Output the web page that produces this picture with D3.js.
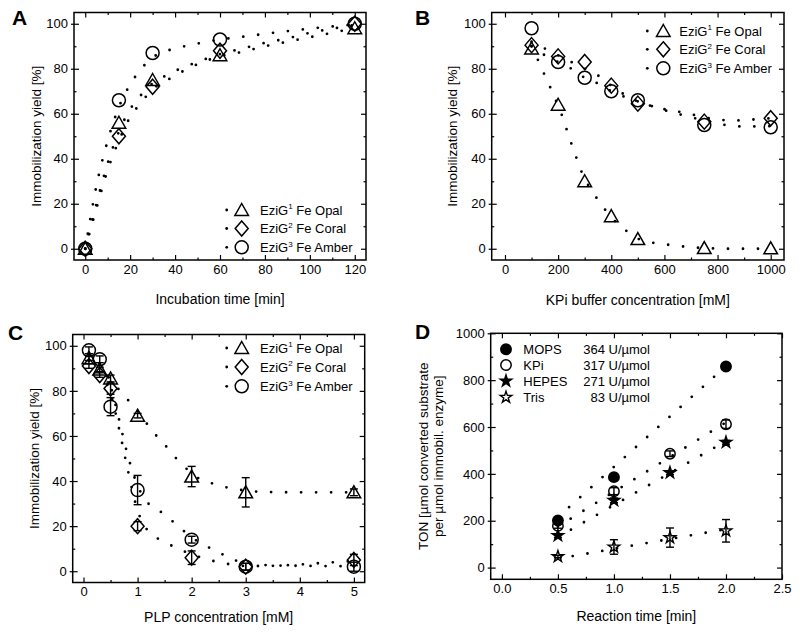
<!DOCTYPE html>
<html><head><meta charset="utf-8">
<script src="https://cdn.jsdelivr.net/npm/d3@7"></script>
<style>
body{margin:0;background:#fff}
svg text{font-family:"Liberation Sans",Arial,Helvetica,sans-serif;fill:#000}
</style></head><body>
<script>
// ---------- Panel A data ----------
const timeA = [0, 15, 30, 60, 120];
const opalA = [0, 56, 75, 86, 98];
const coralA = [0, 50, 72, 88, 100];
const amberA = [0, 66, 87, 93, 100];
const fitXA = [0, 5, 10, 15, 20, 25, 30, 35, 40, 50, 60, 70, 80, 90, 100, 110, 120];
const opalFitA = [0, 20, 38, 52, 62, 68.5, 73.5, 76.5, 79, 83, 86.5, 89, 91.5, 93.5, 96, 97.8, 99.5];
const coralFitA = [0, 18, 35, 48, 58.5, 65, 71, 74, 77, 82, 85.5, 87.5, 90, 92, 94, 96, 98];
const amberFitA = [0, 28, 48, 63, 73, 80, 85, 87.5, 89, 91.2, 93, 94.2, 95.5, 96.7, 97.8, 98.8, 99.6];

// ---------- Panel B data ----------
const kpiB = [100, 200, 300, 400, 500, 750, 1000];
const opalB = [89, 64, 30, 14.5, 4.3, 0.3, 0.2];
const coralB = [90.5, 85.5, 83, 72.5, 64.5, 56.5, 58];
const amberB = [98, 83, 76, 70, 66, 55, 54];
const opalFitXB = [100, 120, 150, 175, 200, 220, 240, 260, 280, 300, 320, 356, 400, 440, 500, 530, 580, 635, 695, 770, 850, 1000];
const opalFitB = [90, 85, 77, 70.5, 63.5, 57.5, 50, 43.4, 36.7, 31, 27, 20.7, 14, 9.6, 4.5, 3.3, 2.3, 1.5, 0.7, 0.2, 0, 0];
const fitXB = [100, 150, 200, 250, 300, 350, 400, 450, 500, 550, 600, 650, 700, 750, 800, 850, 900, 950, 1000];
const coralFitB = [92, 89, 86, 83, 80, 77, 72.5, 68.5, 65.5, 63.5, 62, 61, 59.8, 58.4, 57.5, 57, 57.1, 57.6, 58];
const amberFitB = [90, 86, 83, 80, 76, 73.4, 70, 67.5, 65.5, 63.5, 61.6, 60, 58.4, 57, 55.6, 54.7, 54.3, 54.4, 54.5];

// ---------- Panel C data ----------
const plpC = [0.1, 0.3, 0.5, 1, 2, 3, 5];
const opalC = [94.5, 89.5, 85.5, 69, 42, 35, 35];
const opalErrC = [1, 1, 1.5, 1, 4.5, 6.5, 1.5];
const coralC = [91, 87, 81, 20, 6, 2, 5];
const coralErrC = [1, 1, 2.5, 2, 3, 1.5, 2.5];
const amberC = [98, 94, 73, 36, 14, 2, 2];
const amberErrC = [1.5, 1.5, 4, 6.5, 1.5, 1.5, 2];
const opalFitXC = [0.1, 0.3, 0.5, 0.82, 1, 1.28, 1.52, 1.77, 2, 2.16, 2.46, 2.73, 3, 3.3, 4, 5];
const opalFitC = [96, 91, 85, 76, 71, 62, 55.6, 48.6, 43.5, 40.7, 38.5, 36.7, 35.8, 35.2, 35, 35];
const fitXC = [0.1, 0.3, 0.5, 0.65, 0.8, 1, 1.2, 1.45, 1.75, 2, 2.2, 2.46, 2.73, 3, 3.5, 4, 4.5, 5];
const amberFitC = [97, 92, 82, 68, 53, 38, 30, 26, 20, 15, 12, 8.9, 5.6, 3.5, 2.6, 2.4, 2.3, 2.2];
const coralFitC = [93, 88, 79, 64, 47, 27, 17.6, 13.6, 10, 7.5, 5.9, 4.2, 3, 2.3, 2.4, 3, 3.8, 4.5];

// ---------- Panel D data ----------
const timeD = [0.5, 1.0, 1.5, 2.0];
const mopsD = [201, 386, null, 858];
const mopsErrD = [8, 15, null, 10];
const kpiD = [178, 326, 486, 612];
const kpiErrD = [10, 15, 12, 18];
const hepesD = [137, 287, 405, 535];
const hepesErrD = [8, 10, 8, 8];
const trisD = [47, 88, 128, 157];
const trisErrD = [5, 31, 41, 48];
const fitXD = [0.5, 2.0];
const mopsFitD = [215, 860];
const kpiFitD = [175, 620];
const hepesFitD = [130, 540];
const trisFitD = [38, 164];
const legendNamesD = ["MOPS", "KPi", "HEPES", "Tris"];
const legendValuesD = ["364 U/µmol", "317 U/µmol", "271 U/µmol", "83 U/µmol"];

const legendSeries = [["1", " Fe Opal"], ["2", " Fe Coral"], ["3", " Fe Amber"]];

const FONT = '"Liberation Sans",Arial,Helvetica,sans-serif';
const svg = d3.select("body").append("svg").attr("width", 800).attr("height", 638)
  .style("background", "#fff");

function makePanel(o) {
  const x = d3.scaleLinear().domain(o.xd).range([o.l, o.r]);
  const y = d3.scaleLinear().domain(o.yd).range([o.b, o.t]);
  const g = svg.append("g");
  const ax = (fn, scale, vals, size, pad, fmt, tr) => {
    const a = fn(scale).tickValues(vals).tickSizeInner(size).tickSizeOuter(0).tickPadding(pad)
      .tickFormat(fmt || (() => ""));
    const gg = g.append("g").attr("transform", tr).call(a)
      .attr("font-size", 13).attr("font-family", FONT);
    gg.select(".domain").remove();
    gg.selectAll("line").attr("stroke", "#000").attr("stroke-width", 1.2);
    gg.selectAll("text").attr("fill", "#000");
    return gg;
  };
  ax(d3.axisBottom, x, o.xMaj, -5, 4.5, o.xFmt, `translate(0,${o.b})`);
  ax(d3.axisBottom, x, o.xMin, -2.5, 0, null, `translate(0,${o.b})`);
  ax(d3.axisTop, x, o.xMaj, -5, 0, null, `translate(0,${o.t})`);
  ax(d3.axisTop, x, o.xMin, -2.5, 0, null, `translate(0,${o.t})`);
  ax(d3.axisLeft, y, o.yMaj, -5, 6, o.yFmt, `translate(${o.l},0)`);
  ax(d3.axisLeft, y, o.yMaj, 3, 0, null, `translate(${o.l},0)`);
  ax(d3.axisLeft, y, o.yMin, -2.5, 0, null, `translate(${o.l},0)`);
  ax(d3.axisRight, y, o.yMaj, -5, 0, null, `translate(${o.r},0)`);
  ax(d3.axisRight, y, o.yMin, -2.5, 0, null, `translate(${o.r},0)`);
  g.append("rect").attr("x", o.l).attr("y", o.t).attr("width", o.r - o.l).attr("height", o.b - o.t)
    .attr("fill", "none").attr("stroke", "#000").attr("stroke-width", 1.5);
  // titles
  g.append("text").attr("x", (o.l + o.r) / 2).attr("y", o.xTitleY).attr("text-anchor", "middle")
    .attr("font-size", 14).text(o.xTitle);
  o.yTitles.forEach((t, i) => {
    g.append("text").attr("transform", `translate(${t.x},${(o.t + o.b) / 2}) rotate(-90)`)
      .attr("text-anchor", "middle").attr("font-size", 13.5).text(t.text);
  });
  g.append("text").attr("x", o.letter[0]).attr("y", o.letter[1]).attr("font-size", 21)
    .attr("font-weight", "bold").text(o.letter[2]);
  return { g, x, y };
}

function fit(p, xs, ys) {
  const line = d3.line().x((d, i) => p.x(xs[i])).y(d => p.y(d)).curve(d3.curveMonotoneX);
  p.g.append("path").attr("d", line(ys)).attr("fill", "none").attr("stroke", "#000")
    .attr("stroke-width", 2.8).attr("stroke-linecap", "round").attr("stroke-dasharray", "0 15");
}

const shapes = {
  tri: "M0,-6.5L6.8,5.5L-6.8,5.5Z",
  dia: "M0,-7.5L6.5,0L0,7.5L-6.5,0Z",
};
function marker(g, kind, cx, cy, opt = {}) {
  if (kind === "circ") {
    g.append("circle").attr("cx", cx).attr("cy", cy).attr("r", opt.r || 6.5)
      .attr("fill", opt.fill || "none").attr("stroke", "#000").attr("stroke-width", 1.5);
  } else if (kind === "star") {
    g.append("path").attr("transform", `translate(${cx},${cy})`)
      .attr("d", d3.symbol(d3.symbolStar, 42)()).attr("fill", opt.fill || "none")
      .attr("stroke", "#000").attr("stroke-width", 1.4).attr("stroke-linejoin", "miter");
  } else {
    g.append("path").attr("transform", `translate(${cx},${cy})`).attr("d", shapes[kind])
      .attr("fill", "none").attr("stroke", "#000").attr("stroke-width", 1.5);
  }
}
function errbar(p, xv, yv, e, cap = 4) {
  if (yv == null || !e) return;
  const cx = p.x(xv), y1 = p.y(yv - e), y2 = p.y(yv + e);
  const g = p.g.append("g").attr("stroke", "#000").attr("stroke-width", 1.4);
  g.append("line").attr("x1", cx).attr("x2", cx).attr("y1", y1).attr("y2", y2);
  g.append("line").attr("x1", cx - cap).attr("x2", cx + cap).attr("y1", y1).attr("y2", y1);
  g.append("line").attr("x1", cx - cap).attr("x2", cx + cap).attr("y1", y2).attr("y2", y2);
}
function series(p, xs, ys, kind, errs, opt) {
  xs.forEach((xv, i) => {
    if (ys[i] == null) return;
    if (errs) errbar(p, xv, ys[i], errs[i]);
    marker(p.g, kind, p.x(xv), p.y(ys[i]), opt);
  });
}
function eziLegend(p, dotX, symX, textX, ys) {
  const kinds = ["tri", "dia", "circ"];
  ys.forEach((yy, i) => {
    p.g.append("circle").attr("cx", dotX).attr("cy", yy).attr("r", 1.4).attr("fill", "#000");
    marker(p.g, kinds[i], symX, yy);
    const t = p.g.append("text").attr("x", textX).attr("y", yy + 4.8).attr("font-size", 13);
    t.append("tspan").text("EziG");
    t.append("tspan").attr("font-size", 8).attr("dy", -5.5).text(legendSeries[i][0]);
    t.append("tspan").attr("dy", 5.5).text(legendSeries[i][1]);
  });
}

const yd = [-5, 105];
const yMaj = [0, 20, 40, 60, 80, 100];
const yMin = [10, 30, 50, 70, 90];
const yTitle = "Immobilization yield [%]";

// ---------- Panel A ----------
const pA = makePanel({
  l: 74, r: 366, t: 12.5, b: 260, xd: [-5, 125], yd,
  xMaj: [0, 20, 40, 60, 80, 100, 120], xMin: [10, 30, 50, 70, 90, 110],
  yMaj, yMin, xFmt: d3.format("d"), yFmt: d3.format("d"),
  xTitle: "Incubation time [min]", xTitleY: 304,
  yTitles: [{ x: 41, text: yTitle }], letter: [12, 25, "A"]
});
fit(pA, fitXA, amberFitA); fit(pA, fitXA, opalFitA); fit(pA, fitXA, coralFitA);
series(pA, timeA, opalA, "tri"); series(pA, timeA, coralA, "dia"); series(pA, timeA, amberA, "circ");
eziLegend(pA, 226.7, 241.7, 260, [210, 228.5, 247.3]);

// ---------- Panel B ----------
const pB = makePanel({
  l: 491.7, r: 784, t: 12.5, b: 260, xd: [-50, 1050], yd,
  xMaj: [0, 200, 400, 600, 800, 1000], xMin: [100, 300, 500, 700, 900],
  yMaj, yMin, xFmt: d3.format("d"), yFmt: d3.format("d"),
  xTitle: "KPi buffer concentration [mM]", xTitleY: 305,
  yTitles: [{ x: 457, text: yTitle }], letter: [415, 25, "B"]
});
fit(pB, opalFitXB, opalFitB); fit(pB, fitXB, coralFitB); fit(pB, fitXB, amberFitB);
series(pB, kpiB, opalB, "tri"); series(pB, kpiB, coralB, "dia"); series(pB, kpiB, amberB, "circ");
eziLegend(pB, 647.3, 663.3, 679.3, [31, 49.3, 68.3]);

// ---------- Panel C ----------
const pC = makePanel({
  l: 72.7, r: 364.7, t: 334.5, b: 582.5, xd: [-0.2, 5.2], yd,
  xMaj: [0, 1, 2, 3, 4, 5], xMin: [0.5, 1.5, 2.5, 3.5, 4.5],
  yMaj, yMin, xFmt: d3.format("d"), yFmt: d3.format("d"),
  xTitle: "PLP concentration [mM]", xTitleY: 622,
  yTitles: [{ x: 39, text: yTitle }], letter: [8, 340, "C"]
});
fit(pC, opalFitXC, opalFitC); fit(pC, fitXC, amberFitC); fit(pC, fitXC, coralFitC);
series(pC, plpC, opalC, "tri", opalErrC); series(pC, plpC, coralC, "dia", coralErrC);
series(pC, plpC, amberC, "circ", amberErrC);
eziLegend(pC, 226.7, 241.7, 260, [348, 367, 386.3]);

// ---------- Panel D ----------
const pD = makePanel({
  l: 490.7, r: 782, t: 333.3, b: 579.3, xd: [-0.1, 2.5], yd: [-50, 1000],
  xMaj: [0, 0.5, 1, 1.5, 2, 2.5], xMin: [0.25, 0.75, 1.25, 1.75, 2.25],
  yMaj: [0, 200, 400, 600, 800, 1000], yMin: [100, 300, 500, 700, 900],
  xFmt: d3.format(".1f"), yFmt: d3.format("d"),
  xTitle: "Reaction time [min]", xTitleY: 621,
  yTitles: [{ x: 428, text: "TON [µmol converted substrate" }, { x: 443, text: "per µmol immobil. enzyme]" }],
  letter: [415, 339, "D"]
});
fit(pD, fitXD, mopsFitD); fit(pD, fitXD, kpiFitD); fit(pD, fitXD, hepesFitD); fit(pD, fitXD, trisFitD);
series(pD, timeD, trisD, "star", trisErrD, { fill: "none" });
series(pD, timeD, hepesD, "star", hepesErrD, { fill: "#000" });
series(pD, timeD, kpiD, "circ", kpiErrD, { r: 5.2 });
series(pD, timeD, mopsD, "circ", mopsErrD, { r: 5.2, fill: "#000" });
const legD = [["circ", { r: 5.2, fill: "#000" }], ["circ", { r: 5.2 }], ["star", { fill: "#000" }], ["star", { fill: "none" }]];
[349.3, 365, 381, 397.3].forEach((yy, i) => {
  marker(pD.g, legD[i][0], 506, yy, legD[i][1]);
  pD.g.append("text").attr("x", 523.3).attr("y", yy + 4.8).attr("font-size", 13).text(legendNamesD[i]);
  pD.g.append("text").attr("x", 650).attr("y", yy + 4.8).attr("font-size", 13)
    .attr("text-anchor", "end").text(legendValuesD[i]);
});
</script>
</body></html>
